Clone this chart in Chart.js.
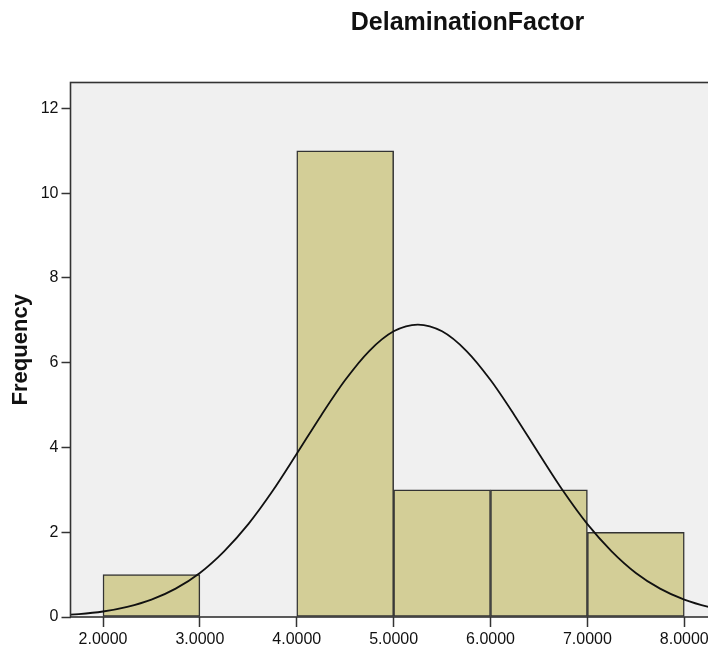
<!DOCTYPE html>
<html>
<head>
<meta charset="utf-8">
<script src="https://cdn.jsdelivr.net/npm/chart.js@4"></script>
<style>
  html, body { margin: 0; padding: 0; background: #fff; overflow: hidden; width: 708px; height: 646px; }
  #wrap { position: absolute; left: 0; top: 0; width: 760px; height: 646px; }
</style>
</head>
<body>
<div id="wrap"><canvas id="c" width="760" height="646"></canvas></div>
<script>
// ---- data ----
const chartTitle = "DelaminationFactor";
const yAxisTitle = "Frequency";
const binCenters = [2.5, 4.5, 5.5, 6.5, 7.5];
const frequencies = [1, 11, 3, 3, 2];
const curveX = [1.5, 1.75, 2.0, 2.25, 2.5, 2.75, 3.0, 3.25, 3.5, 3.75, 4.0, 4.25, 4.5, 4.75, 5.0, 5.25,
                5.5, 5.75, 6.0, 6.25, 6.5, 6.75, 7.0, 7.25, 7.5, 7.75, 8.0, 8.25, 8.5, 8.75];
const curveY = [0.04, 0.07, 0.13, 0.24, 0.41, 0.67, 1.04, 1.55, 2.19, 2.97, 3.85, 4.75, 5.59, 6.28, 6.74, 6.90,
                6.74, 6.28, 5.59, 4.75, 3.85, 2.97, 2.19, 1.55, 1.04, 0.67, 0.41, 0.24, 0.13, 0.07];
const xTicks = [2, 3, 4, 5, 6, 7, 8];
const yTicks = [0, 2, 4, 6, 8, 10, 12];
const xRange = [1.6645, 8.7816];
const yRange = [0, 12.61];

const FONT = "'Liberation Sans', Arial, sans-serif";

const framePlugin = {
  id: 'frame',
  beforeDatasetsDraw(chart) {
    const a = chart.chartArea, ctx = chart.ctx;
    ctx.save();
    ctx.fillStyle = '#F0F0F0';
    ctx.fillRect(a.left, a.top, a.right - a.left, a.bottom - a.top);
    ctx.restore();
  },
  afterDatasetsDraw(chart) {
    const a = chart.chartArea, ctx = chart.ctx;
    ctx.save();
    ctx.strokeStyle = '#333';
    ctx.lineWidth = 1.6;
    ctx.strokeRect(a.left, a.top, a.right - a.left, a.bottom - a.top);
    ctx.restore();
  },
  afterDraw(chart) {
    const ctx = chart.ctx;
    ctx.save();
    ctx.fillStyle = '#111';
    ctx.font = "bold 25px " + FONT;
    ctx.textAlign = 'center';
    ctx.textBaseline = 'alphabetic';
    ctx.fillText(chartTitle, 467.5, 29.5);
    ctx.restore();
  }
};

new Chart(document.getElementById('c'), {
  type: 'bar',
  data: {
    datasets: [
      {
        type: 'bar',
        data: binCenters.map((x, i) => ({ x: x, y: frequencies[i] })),
        backgroundColor: 'rgb(211,206,151)',
        borderColor: '#333',
        borderWidth: 1.5,
        borderSkipped: false,
        barPercentage: 1,
        categoryPercentage: 1,
        order: 2
      },
      {
        type: 'line',
        data: curveX.map((x, i) => ({ x: x, y: curveY[i] })),
        borderColor: '#111',
        borderWidth: 1.8,
        pointRadius: 0,
        fill: false,
        cubicInterpolationMode: 'monotone',
        order: 1
      }
    ]
  },
  options: {
    responsive: false,
    animation: false,
    devicePixelRatio: 1,
    layout: { padding: { top: 82.5, right: 0, bottom: 0, left: 0 } },
    plugins: { legend: { display: false }, tooltip: { enabled: false }, title: { display: false } },
    scales: {
      x: {
        type: 'linear',
        min: xRange[0],
        max: xRange[1],
        offset: false,
        afterBuildTicks(scale) { scale.ticks = xTicks.map(v => ({ value: v })); },
        afterFit(scale) { scale.height = 29; },
        ticks: {
          autoSkip: false,
          maxRotation: 0,
          padding: 3,
          color: '#111',
          font: { family: FONT, size: 16 },
          callback: v => Number(v).toFixed(4)
        },
        grid: { display: true, drawOnChartArea: false, drawTicks: true, tickLength: 10, tickColor: '#333', tickWidth: 1.5, offset: false },
        border: { display: false }
      },
      y: {
        type: 'linear',
        min: yRange[0],
        max: yRange[1],
        afterBuildTicks(scale) { scale.ticks = yTicks.map(v => ({ value: v })); },
        afterFit(scale) { scale.width = 70.5; },
        ticks: {
          autoSkip: false,
          padding: 3,
          color: '#111',
          font: { family: FONT, size: 16 }
        },
        title: {
          display: true,
          text: yAxisTitle,
          color: '#111',
          font: { family: FONT, size: 22, weight: 'bold' },
          padding: { top: 8, bottom: 0 }
        },
        grid: { display: true, drawOnChartArea: false, drawTicks: true, tickLength: 9, tickColor: '#333', tickWidth: 1.5 },
        border: { display: false }
      }
    }
  },
  plugins: [framePlugin]
});
</script>
</body>
</html>
